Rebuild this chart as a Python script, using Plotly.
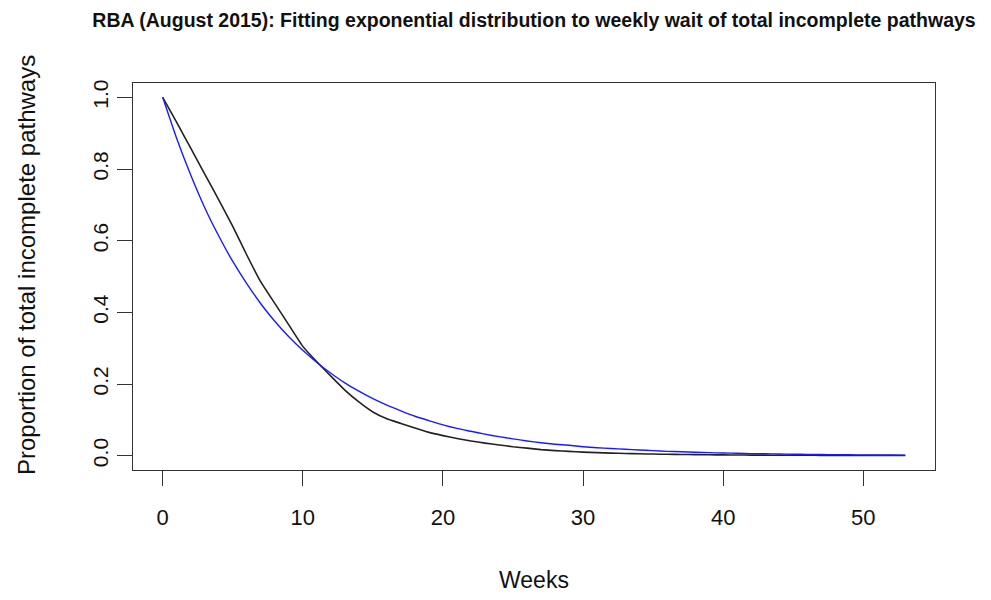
import plotly.graph_objects as go

# Week index of the wait
weeks = list(range(0, 54))

# Observed proportion of total incomplete pathways still waiting at each week
observed = [
    1.000, 0.930, 0.858, 0.786, 0.714, 0.640, 0.560, 0.485, 0.425, 0.365,
    0.305, 0.262, 0.222, 0.183, 0.150, 0.122, 0.103, 0.090, 0.077, 0.065,
    0.056, 0.048, 0.041, 0.035, 0.030, 0.025, 0.021, 0.017, 0.014, 0.012,
    0.010, 0.0085, 0.0072, 0.0060, 0.0052, 0.0045, 0.0038, 0.0033, 0.0028, 0.0024,
    0.0021, 0.0018, 0.0016, 0.0014, 0.0012, 0.0011, 0.0010, 0.0009, 0.0008, 0.0007,
    0.0006, 0.0006, 0.0005, 0.0005,
]

# Fitted exponential survival curve at each week
fitted = [
    1.000, 0.885, 0.783, 0.692, 0.613, 0.542, 0.480, 0.424, 0.375, 0.332,
    0.294, 0.260, 0.230, 0.203, 0.180, 0.159, 0.141, 0.125, 0.110, 0.098,
    0.086, 0.076, 0.068, 0.060, 0.053, 0.047, 0.041, 0.036, 0.032, 0.029,
    0.025, 0.022, 0.020, 0.018, 0.016, 0.014, 0.012, 0.011, 0.0095, 0.0084,
    0.0074, 0.0066, 0.0058, 0.0052, 0.0046, 0.0040, 0.0036, 0.0031, 0.0028, 0.0025,
    0.0022, 0.0019, 0.0017, 0.0015,
]

x_ticks = [0, 10, 20, 30, 40, 50]
y_ticks = [0.0, 0.2, 0.4, 0.6, 0.8, 1.0]
y_tick_text = ["0.0", "0.2", "0.4", "0.6", "0.8", "1.0"]

FONT = "Liberation Sans, Arial, Helvetica, sans-serif"

fig = go.Figure()
fig.add_trace(go.Scatter(x=weeks, y=observed, mode="lines",
                         line=dict(color="#222222", width=1.6, shape="spline", smoothing=0.4),
                         showlegend=False))
fig.add_trace(go.Scatter(x=weeks, y=fitted, mode="lines",
                         line=dict(color="#1a1aff", width=1.4, shape="spline", smoothing=0.6),
                         showlegend=False))

# R-style 4% padding around the data range
xr = (-0.04 * 53, 53 * 1.04)
yr = (-0.04, 1.04)

fig.update_layout(
    width=991, height=600,
    margin=dict(l=133, r=56, t=83, b=130),
    paper_bgcolor="white", plot_bgcolor="white",
    font=dict(family=FONT, color="#111111"),
    title=dict(
        text="<b>RBA (August 2015): Fitting exponential distribution to weekly wait of total incomplete pathways</b>",
        x=0.5, xanchor="center", xref="paper",
        y=1 - 20 / 600, yanchor="middle", yref="container",
        font=dict(size=19.5, family=FONT, color="#111111"),
    ),
    xaxis=dict(
        range=list(xr), tickvals=x_ticks, ticktext=[str(v) for v in x_ticks],
        showgrid=False, zeroline=False,
        showline=True, linecolor="#333333", linewidth=1.3, mirror=True,
        ticks="outside", ticklen=15, tickwidth=1.3, tickcolor="#333333",
        ticklabelstandoff=12,
        tickfont=dict(size=22, family=FONT, color="#111111"),
    ),
    yaxis=dict(
        range=list(yr), tickvals=y_ticks, ticktext=y_tick_text,
        showgrid=False, zeroline=False,
        showline=True, linecolor="#333333", linewidth=1.3, mirror=True,
        ticks="outside", ticklen=15, tickwidth=1.3, tickcolor="#333333",
        tickangle=-90,
        tickfont=dict(size=21, family=FONT, color="#111111"),
    ),
    annotations=[
        dict(text="Weeks", x=0.5, y=-0.284, xref="paper", yref="paper",
             xanchor="center", yanchor="middle", showarrow=False,
             font=dict(size=23, family=FONT, color="#111111")),
        dict(text="Proportion of total incomplete pathways", x=-0.132, y=0.53,
             xref="paper", yref="paper", textangle=-90,
             xanchor="center", yanchor="middle", showarrow=False,
             font=dict(size=24, family=FONT, color="#111111")),
    ],
)

fig.write_html("out.html")
